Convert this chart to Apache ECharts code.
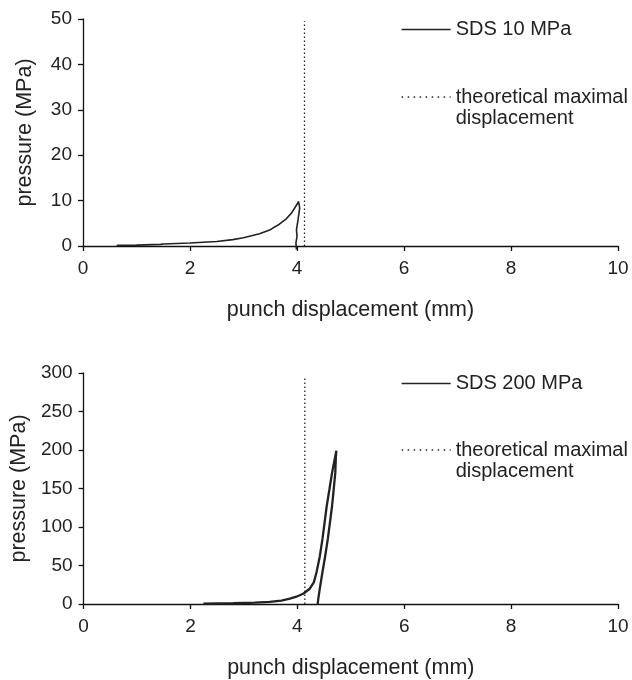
<!DOCTYPE html>
<html>
<head>
<meta charset="utf-8">
<script src="https://cdn.jsdelivr.net/npm/echarts@6/dist/echarts.min.js"></script>
<style>
html,body{margin:0;padding:0;background:#fff;}
#chart{width:632px;height:680px;}
</style>
</head>
<body>
<div id="chart"></div>
<script>
// ---- data ----
const xAxisTicks = [0, 10, 2];           // min, max, interval (punch displacement, mm)
const topYTicks = [0, 50, 10];           // pressure, MPa
const bottomYTicks = [0, 300, 50];       // pressure, MPa

const topSeriesName = 'SDS 10 MPa';
const bottomSeriesName = 'SDS 200 MPa';
const theoName = 'theoretical maximal displacement';

// SDS 10 MPa: loading then unloading (x = displacement mm, y = pressure MPa)
const sds10 = [
  [0.63, 0.15], [1.0, 0.2], [1.45, 0.35], [1.5, 0.45], [2.0, 0.65], [2.5, 1.0],
  [2.8, 1.4], [3.0, 1.8], [3.3, 2.7], [3.5, 3.6], [3.67, 4.8], [3.8, 6.0],
  [3.9, 7.3], [3.98, 8.8], [4.03, 9.8],
  [4.05, 8.4], [4.02, 5.8], [3.99, 3.6], [4.0, 2.1], [3.98, 0.7], [3.99, -0.8]
];
// SDS 200 MPa: loading then unloading
const sds200 = [
  [2.24, 0.5], [2.8, 1], [3.2, 1.8], [3.48, 2.8], [3.7, 4.5], [3.86, 6.9], [4.0, 10],
  [4.11, 13.3], [4.23, 19.8], [4.31, 28.4], [4.36, 41.5], [4.42, 62], [4.47, 84.5],
  [4.51, 106], [4.55, 127.6], [4.6, 149], [4.65, 170.6], [4.69, 185], [4.73, 199],
  [4.72, 190], [4.71, 170.6], [4.68, 149], [4.65, 127.6], [4.61, 106], [4.57, 84.5],
  [4.52, 62], [4.47, 41.5], [4.42, 20], [4.39, 6], [4.38, 0]
];
// theoretical maximal displacement (vertical reference line)
const theoTop = [[4.14, 0], [4.14, 49.5]];
const theoBottom = [[4.14, 0], [4.14, 295]];

// ---- styles ----
const FONT = "'Liberation Sans', Arial, Helvetica, sans-serif";
const TXT = '#222';

function xAxis(gridIndex) {
  return {
    type: 'value', gridIndex,
    min: xAxisTicks[0], max: xAxisTicks[1], interval: xAxisTicks[2],
    name: 'punch displacement (mm)', nameLocation: 'middle', nameGap: 53,
    nameTextStyle: {fontFamily: FONT, fontSize: 21.5, color: TXT},
    axisLine: {onZero: false, lineStyle: {color: '#111', width: 1.3}},
    axisTick: {show: true, inside: false, length: 5, lineStyle: {color: '#111', width: 1.3}},
    axisLabel: {fontFamily: FONT, fontSize: 19, color: TXT, margin: 13},
    splitLine: {show: false}
  };
}
function yAxis(gridIndex, ticks) {
  return {
    type: 'value', gridIndex,
    min: ticks[0], max: ticks[1], interval: ticks[2],
    name: 'pressure (MPa)', nameLocation: 'middle', nameGap: 47, nameRotate: 90,
    nameTextStyle: {fontFamily: FONT, fontSize: 21.5, color: TXT},
    axisLine: {show: true, lineStyle: {color: '#111', width: 1.3}},
    axisTick: {show: true, inside: false, length: 5, lineStyle: {color: '#111', width: 1.3}},
    axisLabel: {fontFamily: FONT, fontSize: 19, color: TXT, margin: 11},
    splitLine: {show: false}
  };
}
function legend(name, left, top) {
  const multi = name === theoName;
  return {
    data: [name], left, top, padding: 0, itemWidth: 49, itemHeight: 12,
    selectedMode: false,
    itemStyle: {opacity: 0},
    lineStyle: multi ? {type: [1.5, 4.5], width: 1.3} : {width: 1.3},
    formatter: n => n === theoName ? '\ntheoretical maximal\ndisplacement' : n,
    textStyle: {fontFamily: FONT, fontSize: 20, color: TXT, lineHeight: 21}
  };
}

const option = {
  backgroundColor: '#fff',
  animation: false,
  grid: [
    {left: 83, right: 14, top: 19, height: 227},
    {left: 83, right: 14, top: 373, height: 232}
  ],
  xAxis: [xAxis(0), xAxis(1)],
  yAxis: [yAxis(0, topYTicks), yAxis(1, bottomYTicks)],
  legend: [
    legend(topSeriesName, 401, 19),
    legend(theoName, 401, 65.5),
    legend(bottomSeriesName, 401, 373),
    legend(theoName, 401, 418.5)
  ],
  series: [
    {name: topSeriesName, type: 'line', xAxisIndex: 0, yAxisIndex: 0, data: sds10,
     symbol: 'none', clip: false, lineStyle: {color: '#222', width: 1.6}, color: '#222'},
    {name: theoName, type: 'line', xAxisIndex: 0, yAxisIndex: 0, data: theoTop,
     symbol: 'none', lineStyle: {color: '#222', width: 1.3, type: [1.5, 2.5]}, color: '#222'},
    {name: bottomSeriesName, type: 'line', xAxisIndex: 1, yAxisIndex: 1, data: sds200,
     symbol: 'none', clip: false, lineStyle: {color: '#222', width: 2.3}, color: '#222'},
    {name: theoName, type: 'line', xAxisIndex: 1, yAxisIndex: 1, data: theoBottom,
     symbol: 'none', lineStyle: {color: '#222', width: 1.3, type: [1.5, 2.5]}, color: '#222'}
  ]
};

const chart = echarts.init(document.getElementById('chart'), null, {renderer: 'canvas'});
chart.setOption(option);
</script>
</body>
</html>
